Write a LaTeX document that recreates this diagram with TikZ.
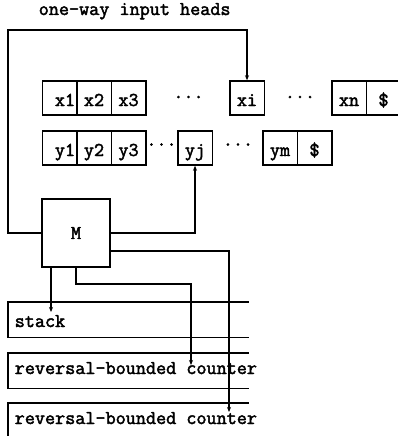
\documentclass[tikz,border=0pt]{standalone}
\usepackage{fontspec}
\setmonofont{Latin Modern Mono}[AutoFakeBold=2.2]
\usetikzlibrary{arrows.meta}
\begin{document}
\begin{tikzpicture}[x=1pt,y=-1pt,line width=1.5pt,
  every node/.style={font=\ttfamily\bfseries\fontsize{19.6}{22}\selectfont,inner sep=0pt},
  cell/.style={draw,minimum width=34.5pt,minimum height=34pt,text height=16pt,text depth=0pt},
  dots/.style={anchor=base},
  lbl/.style={anchor=base west},
  box/.style={minimum width=239pt,minimum height=34pt,anchor=north west},
  wire/.style={line width=1.5pt},
  arr/.style={wire,-{Stealth[length=5pt,width=4pt]}}
]
\clip (0,0) rectangle (398,436);
% title
\node[lbl] (title) at (38,15) {one-way input heads};
% x row
\node[cell] (x1) at (59.5,98) {\hspace{11pt}x1};
\node[cell] (x2) at (94,98) {x2};
\node[cell] (x3) at (128.5,98) {x3};
\node[dots] (xd1) at (188.5,103) {···};
\node[cell] (xi) at (247,98) {xi};
\node[dots] (xd2) at (300,103) {···};
\node[cell] (xn) at (349,98) {xn};
\node[cell] (xe) at (383.5,98) {\$};
% y row
\node[cell] (y1) at (59.5,148) {\hspace{11pt}y1};
\node[cell] (y2) at (94,148) {y2};
\node[cell] (y3) at (128.5,148) {y3};
\node[dots] (yd1) at (161.5,150.5) {···};
\node[cell] (yj) at (195,148) {yj};
\node[dots] (yd2) at (238,150.5) {···};
\node[cell] (ym) at (280,148) {ym};
\node[cell] (ye) at (314.5,148) {\$};
% machine
\node[draw,minimum width=68pt,minimum height=68pt] (M) at (76,233) {M};
% storage
\node[box] (stack) at (8,302) {};
\node[box] (c1) at (8,353) {};
\node[box] (c2) at (8,403) {};
\node[lbl] (stackl) at (14,327) {stack};
\node[lbl] (c1l) at (14,374) {reversal-bounded counter};
\node[lbl] (c2l) at (14,424) {reversal-bounded counter};
\draw (stack.north east) -- (stack.north west) -- (stack.south west) -- (stack.south east);
\draw (c1.north east) -- (c1.north west) -- (c1.south west) -- (c1.south east);
\draw (c2.north east) -- (c2.north west) -- ([yshift=-10pt]c2.south west);
% wires
\coordinate (tl) at (8,30);
\draw[arr] (M.west) -| (tl) -| (xi.north);
\draw[arr] (M.east) -| (yj.south);
\coordinate (s) at (51,312);
\draw[arr] (M.south -| s) -- (s);
\coordinate (k1) at (191,365);
\draw[arr] (M.south) -- (76,284) -| (k1);
\coordinate (k2) at (229,412);
\draw[arr] ([yshift=-18pt]M.east) -| (k2);
\end{tikzpicture}
\end{document}
